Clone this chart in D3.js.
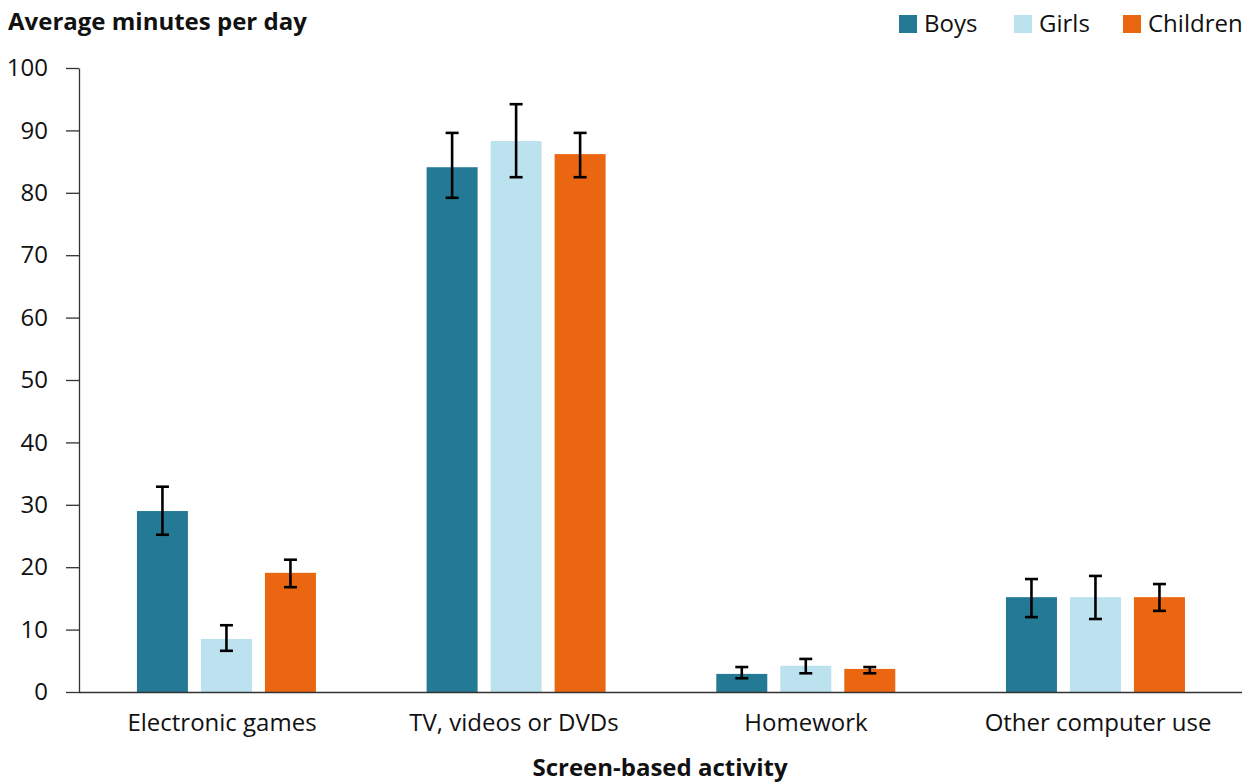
<!DOCTYPE html>
<html><head><meta charset="utf-8">
<script src="https://cdn.jsdelivr.net/npm/d3@7"></script>
<style>body{margin:0;background:#fff;font-family:"Open Sans",sans-serif;}</style>
</head><body><svg id="c" width="1256" height="782"></svg>
<script>
const categories = ["Electronic games","TV, videos or DVDs","Homework","Other computer use"];
const seriesNames = ["Boys","Girls","Children"];
const colors = ["#247a95","#bde2ef","#eb6610"];
const boys = [29.0, 84.1, 2.9, 15.2];
const girls = [8.5, 88.3, 4.2, 15.2];
const children = [19.1, 86.2, 3.7, 15.2];
const boysLo = [25.2, 79.2, 2.2, 12.0];
const boysHi = [32.9, 89.6, 4.0, 18.1];
const girlsLo = [6.6, 82.5, 3.0, 11.7];
const girlsHi = [10.7, 94.2, 5.3, 18.6];
const childrenLo = [16.8, 82.5, 3.0, 13.0];
const childrenHi = [21.2, 89.6, 4.0, 17.3];
const yTicks = [0,10,20,30,40,50,60,70,80,90,100];

const values=[boys,girls,children], lows=[boysLo,girlsLo,childrenLo], highs=[boysHi,girlsHi,childrenHi];
const svg=d3.select("#c");
const m={l:79,r:1242,t:68,b:692};
const FS=24;
const GW=179;
const x0=d3.scaleBand().domain(categories).range([81.6,1240.3]).padding(0);
const xLab=d3.scaleBand().domain(categories).range([76,1244]).padding(0);
const x1=d3.scaleBand().domain(seriesNames).range([0,GW]).paddingInner(0.203).paddingOuter(0);
const y=d3.scaleLinear().domain([0,100]).range([m.b,m.t]);

const data=[];
categories.forEach((c,i)=>seriesNames.forEach((s,j)=>data.push({c,s,j,v:values[j][i],lo:lows[j][i],hi:highs[j][i]})));
const bx=d=>x0(d.c)+x0.bandwidth()/2-GW/2+x1(d.s);

svg.append("g").selectAll("rect").data(data).join("rect")
 .attr("x",bx).attr("y",d=>y(d.v)).attr("width",x1.bandwidth()).attr("height",d=>y(0)-y(d.v))
 .attr("fill",d=>colors[d.j]);

const eb=svg.append("g").attr("stroke","#000").attr("stroke-width",2.6);
data.forEach(d=>{
 const cx=bx(d)+x1.bandwidth()/2;
 eb.append("line").attr("x1",cx).attr("x2",cx).attr("y1",y(d.lo)).attr("y2",y(d.hi));
 eb.append("line").attr("x1",cx-6.5).attr("x2",cx+6.5).attr("y1",y(d.lo)).attr("y2",y(d.lo));
 eb.append("line").attr("x1",cx-6.5).attr("x2",cx+6.5).attr("y1",y(d.hi)).attr("y2",y(d.hi));
});

const ya=svg.append("g").attr("transform",`translate(${m.l},0)`)
 .call(d3.axisLeft(y).tickValues(yTicks).tickSize(13).tickPadding(18).tickSizeOuter(0));
ya.select(".domain").attr("stroke","#333").attr("stroke-width",1.3);
ya.selectAll(".tick line").attr("stroke","#333").attr("stroke-width",1.3);
ya.selectAll("text").attr("font-family","Open Sans").attr("font-size",FS).attr("fill","#111");

const xa=svg.append("g").attr("transform",`translate(0,${m.b})`)
 .call(d3.axisBottom(xLab).tickSize(0).tickPadding(22).tickSizeOuter(0));
xa.select(".domain").attr("stroke","#333").attr("stroke-width",1.6).attr("d",`M${m.l},0.5H${m.r}`);
xa.selectAll("text").attr("font-family","Open Sans").attr("font-size",FS).attr("fill","#111");

svg.append("text").attr("x",8).attr("y",30).attr("font-weight","bold").attr("font-size",FS).attr("fill","#111").text("Average minutes per day");
svg.append("text").attr("x",660).attr("y",776).attr("text-anchor","middle").attr("font-weight","bold").attr("font-size",FS).attr("fill","#111").text("Screen-based activity");

const lx=[899,1014,1123];
seriesNames.forEach((s,j)=>{
 svg.append("rect").attr("x",lx[j]).attr("y",15).attr("width",18).attr("height",18).attr("fill",colors[j]);
 svg.append("text").attr("x",lx[j]+25).attr("y",32).attr("font-size",FS).attr("fill","#111").text(s);
});
</script></body></html>
